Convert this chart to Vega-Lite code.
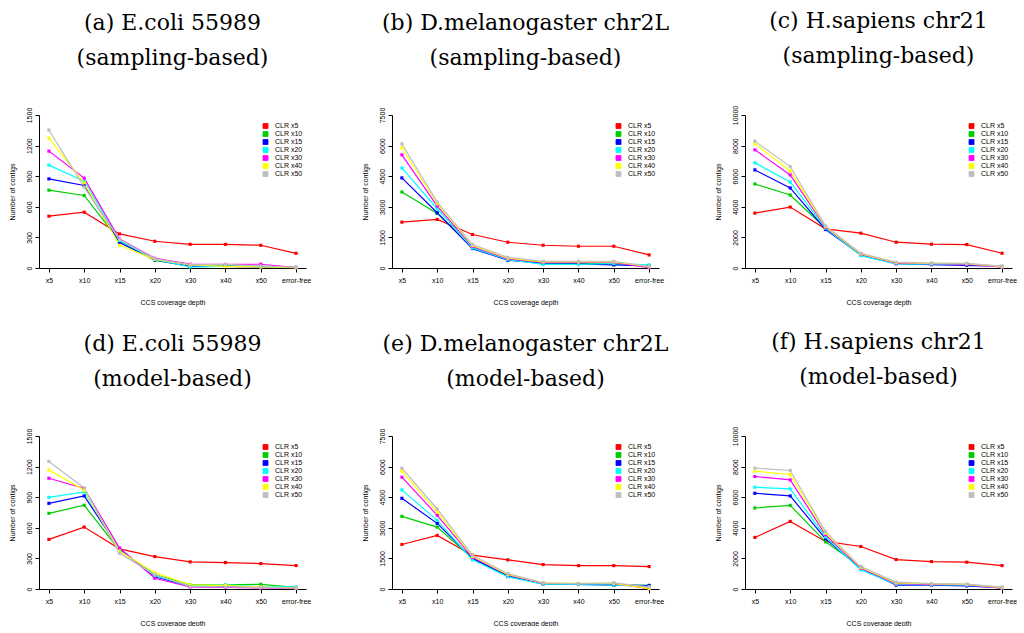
{
"$schema":"https://vega.github.io/schema/vega-lite/v6.json",
"autosize":{"type":"pad"},
"padding":{"left":8,"top":10,"right":0,"bottom":0},
"background":"white",
"bounds":"flush",
"columns":3,
"spacing":{"row":168,"column":86},
"resolve":{"scale":{"color":"shared","x":"independent","y":"independent"},"legend":{"color":"independent"}},
"config":{
 "view":{"stroke":null},
 "font":"Liberation Sans",
 "axis":{"domainColor":"black","tickColor":"black","labelColor":"black","titleColor":"black","labelFontSize":7,"titleFontSize":7,"titleFontWeight":"normal","grid":false,"tickSize":4,"domainWidth":1,"tickWidth":1,"labelFont":"Liberation Sans","titleFont":"Liberation Sans"},
 "axisX":{"labelAngle":0,"labelPadding":4,"titlePadding":15},
 "axisY":{"labelAngle":270,"labelPadding":3,"titlePadding":10,"format":"d"},
 "title":{"font":"DejaVu Serif","fontSize":22,"fontWeight":"normal","color":"black","lineHeight":35,"offset":37,"anchor":"middle"},
 "legend":{"orient":"none","legendX":223,"legendY":7.5,"symbolType":"square","symbolSize":25,"labelFontSize":7,"labelFont":"Liberation Sans","labelColor":"black","labelOffset":6,"rowPadding":-1,"symbolStrokeColor":"black","symbolStrokeWidth":0.8}
},
"datasets":{"d":[
{"p":"a","d":"x5","CLR x5":508,"CLR x10":763,"CLR x15":874,"CLR x20":1009,"CLR x30":1146,"CLR x40":1274,"CLR x50":1353},
{"p":"a","d":"x10","CLR x5":547,"CLR x10":711,"CLR x15":809,"CLR x20":851,"CLR x30":881,"CLR x40":835,"CLR x50":793},
{"p":"a","d":"x15","CLR x5":334,"CLR x10":265,"CLR x15":250,"CLR x20":270,"CLR x30":285,"CLR x40":222,"CLR x50":280},
{"p":"a","d":"x20","CLR x5":262,"CLR x10":75,"CLR x15":80,"CLR x20":85,"CLR x30":95,"CLR x40":85,"CLR x50":90},
{"p":"a","d":"x30","CLR x5":232,"CLR x10":20,"CLR x15":15,"CLR x20":10,"CLR x30":38,"CLR x40":30,"CLR x50":30},
{"p":"a","d":"x40","CLR x5":232,"CLR x10":20,"CLR x15":15,"CLR x20":15,"CLR x30":35,"CLR x40":15,"CLR x50":35},
{"p":"a","d":"x50","CLR x5":223,"CLR x10":15,"CLR x15":10,"CLR x20":15,"CLR x30":37,"CLR x40":10,"CLR x50":20},
{"p":"a","d":"error-free","CLR x5":144,"CLR x10":5,"CLR x15":5,"CLR x20":5,"CLR x30":5,"CLR x40":3,"CLR x50":5},
{"p":"b","d":"x5","CLR x5":2248,"CLR x10":3725,"CLR x15":4415,"CLR x20":4907,"CLR x30":5547,"CLR x40":5892,"CLR x50":6088},
{"p":"b","d":"x10","CLR x5":2380,"CLR x10":2675,"CLR x15":2708,"CLR x20":2905,"CLR x30":3036,"CLR x40":3150,"CLR x50":3233},
{"p":"b","d":"x15","CLR x5":1641,"CLR x10":1000,"CLR x15":950,"CLR x20":980,"CLR x30":1050,"CLR x40":1100,"CLR x50":1150},
{"p":"b","d":"x20","CLR x5":1264,"CLR x10":400,"CLR x15":380,"CLR x20":410,"CLR x30":450,"CLR x40":480,"CLR x50":520},
{"p":"b","d":"x30","CLR x5":1116,"CLR x10":250,"CLR x15":220,"CLR x20":180,"CLR x30":280,"CLR x40":300,"CLR x50":330},
{"p":"b","d":"x40","CLR x5":1067,"CLR x10":230,"CLR x15":200,"CLR x20":180,"CLR x30":280,"CLR x40":300,"CLR x50":330},
{"p":"b","d":"x50","CLR x5":1067,"CLR x10":200,"CLR x15":150,"CLR x20":220,"CLR x30":280,"CLR x40":300,"CLR x50":330},
{"p":"b","d":"error-free","CLR x5":640,"CLR x10":100,"CLR x15":100,"CLR x20":150,"CLR x30":20,"CLR x40":60,"CLR x50":80},
{"p":"c","d":"x5","CLR x5":3589,"CLR x10":5492,"CLR x15":6411,"CLR x20":6871,"CLR x30":7724,"CLR x40":8118,"CLR x50":8293},
{"p":"c","d":"x10","CLR x5":3982,"CLR x10":4770,"CLR x15":5230,"CLR x20":5624,"CLR x30":6083,"CLR x40":6346,"CLR x50":6630},
{"p":"c","d":"x15","CLR x5":2560,"CLR x10":2600,"CLR x15":2516,"CLR x20":2600,"CLR x30":2650,"CLR x40":2700,"CLR x50":2750},
{"p":"c","d":"x20","CLR x5":2276,"CLR x10":900,"CLR x15":850,"CLR x20":810,"CLR x30":900,"CLR x40":920,"CLR x50":960},
{"p":"c","d":"x30","CLR x5":1685,"CLR x10":300,"CLR x15":280,"CLR x20":270,"CLR x30":320,"CLR x40":350,"CLR x50":380},
{"p":"c","d":"x40","CLR x5":1554,"CLR x10":250,"CLR x15":220,"CLR x20":250,"CLR x30":280,"CLR x40":300,"CLR x50":320},
{"p":"c","d":"x50","CLR x5":1532,"CLR x10":250,"CLR x15":175,"CLR x20":250,"CLR x30":250,"CLR x40":280,"CLR x50":300},
{"p":"c","d":"error-free","CLR x5":963,"CLR x10":100,"CLR x15":100,"CLR x20":80,"CLR x30":60,"CLR x40":80,"CLR x50":120},
{"p":"d","d":"x5","CLR x5":486,"CLR x10":742,"CLR x15":840,"CLR x20":899,"CLR x30":1086,"CLR x40":1168,"CLR x50":1250},
{"p":"d","d":"x10","CLR x5":607,"CLR x10":821,"CLR x15":912,"CLR x20":952,"CLR x30":985,"CLR x40":968,"CLR x50":991},
{"p":"d","d":"x15","CLR x5":394,"CLR x10":380,"CLR x15":390,"CLR x20":380,"CLR x30":402,"CLR x40":370,"CLR x50":350},
{"p":"d","d":"x20","CLR x5":318,"CLR x10":140,"CLR x15":120,"CLR x20":130,"CLR x30":105,"CLR x40":160,"CLR x50":140},
{"p":"d","d":"x30","CLR x5":266,"CLR x10":40,"CLR x15":25,"CLR x20":30,"CLR x30":20,"CLR x40":40,"CLR x50":25},
{"p":"d","d":"x40","CLR x5":259,"CLR x10":40,"CLR x15":20,"CLR x20":40,"CLR x30":15,"CLR x40":35,"CLR x50":20},
{"p":"d","d":"x50","CLR x5":249,"CLR x10":46,"CLR x15":15,"CLR x20":20,"CLR x30":10,"CLR x40":20,"CLR x50":15},
{"p":"d","d":"error-free","CLR x5":230,"CLR x10":15,"CLR x15":10,"CLR x20":20,"CLR x30":10,"CLR x40":10,"CLR x50":10},
{"p":"e","d":"x5","CLR x5":2183,"CLR x10":3561,"CLR x15":4447,"CLR x20":4858,"CLR x30":5481,"CLR x40":5777,"CLR x50":5925},
{"p":"e","d":"x10","CLR x5":2626,"CLR x10":3036,"CLR x15":3217,"CLR x20":3364,"CLR x30":3611,"CLR x40":3775,"CLR x50":3922},
{"p":"e","d":"x15","CLR x5":1658,"CLR x10":1500,"CLR x15":1500,"CLR x20":1428,"CLR x30":1550,"CLR x40":1600,"CLR x50":1650},
{"p":"e","d":"x20","CLR x5":1428,"CLR x10":650,"CLR x15":620,"CLR x20":600,"CLR x30":700,"CLR x40":720,"CLR x50":750},
{"p":"e","d":"x30","CLR x5":1198,"CLR x10":250,"CLR x15":250,"CLR x20":240,"CLR x30":280,"CLR x40":300,"CLR x50":300},
{"p":"e","d":"x40","CLR x5":1149,"CLR x10":230,"CLR x15":220,"CLR x20":220,"CLR x30":260,"CLR x40":280,"CLR x50":260},
{"p":"e","d":"x50","CLR x5":1149,"CLR x10":200,"CLR x15":200,"CLR x20":200,"CLR x30":260,"CLR x40":280,"CLR x50":300},
{"p":"e","d":"error-free","CLR x5":1100,"CLR x10":180,"CLR x15":170,"CLR x20":100,"CLR x30":20,"CLR x40":20,"CLR x50":100},
{"p":"f","d":"x5","CLR x5":3370,"CLR x10":5295,"CLR x15":6258,"CLR x20":6652,"CLR x30":7352,"CLR x40":7702,"CLR x50":7899},
{"p":"f","d":"x10","CLR x5":4420,"CLR x10":5470,"CLR x15":6083,"CLR x20":6543,"CLR x30":7133,"CLR x40":7484,"CLR x50":7746},
{"p":"f","d":"x15","CLR x5":3107,"CLR x10":3085,"CLR x15":3282,"CLR x20":3400,"CLR x30":3545,"CLR x40":3650,"CLR x50":3750},
{"p":"f","d":"x20","CLR x5":2779,"CLR x10":1450,"CLR x15":1350,"CLR x20":1247,"CLR x30":1350,"CLR x40":1400,"CLR x50":1450},
{"p":"f","d":"x30","CLR x5":1926,"CLR x10":350,"CLR x15":250,"CLR x20":300,"CLR x30":350,"CLR x40":400,"CLR x50":450},
{"p":"f","d":"x40","CLR x5":1794,"CLR x10":300,"CLR x15":250,"CLR x20":280,"CLR x30":300,"CLR x40":330,"CLR x50":350},
{"p":"f","d":"x50","CLR x5":1751,"CLR x10":280,"CLR x15":200,"CLR x20":250,"CLR x30":280,"CLR x40":300,"CLR x50":320},
{"p":"f","d":"error-free","CLR x5":1532,"CLR x10":100,"CLR x15":80,"CLR x20":80,"CLR x30":60,"CLR x40":80,"CLR x50":120}
]},
"concat":[
{"title":{"text":["(a) E.coli 55989","(sampling-based)"]},"data":{"name":"d"},"width":267,"height":153,
 "transform":[{"filter":"datum.p==='a'"},{"fold":["CLR x5","CLR x10","CLR x15","CLR x20","CLR x30","CLR x40","CLR x50"],"as":["s","v"]}],
 "encoding":{
  "x":{"field":"d","type":"ordinal","sort":["x5","x10","x15","x20","x30","x40","x50","error-free"],"scale":{"type":"point","padding":0.28},"axis":{"title":"CCS coverage depth"}},
  "y":{"field":"v","type":"quantitative","scale":{"domain":[0,1500],"nice":false},"axis":{"values":[0,300,600,900,1200,1500],"title":"Number of contigs"}},
  "color":{"field":"s","type":"nominal","scale":{"domain":["CLR x5","CLR x10","CLR x15","CLR x20","CLR x30","CLR x40","CLR x50"],"range":["#FF0000","#00CD00","#0000FF","#00FFFF","#FF00FF","#FFFF00","#BEBEBE"]},"legend":{"title":null,"encode":{"symbols":{"update":{"fill":{"scale":"color","field":"value"},"stroke":{"value":"black"},"strokeWidth":{"value":0.8},"opacity":{"value":1}}}}}}
 },
 "layer":[{"mark":{"type":"line","strokeWidth":1.2}},{"mark":{"type":"square","size":10,"opacity":1}}]},
{"title":{"text":["(b) D.melanogaster chr2L","(sampling-based)"]},"data":{"name":"d"},"width":267,"height":153,
 "transform":[{"filter":"datum.p==='b'"},{"fold":["CLR x5","CLR x10","CLR x15","CLR x20","CLR x30","CLR x40","CLR x50"],"as":["s","v"]}],
 "encoding":{
  "x":{"field":"d","type":"ordinal","sort":["x5","x10","x15","x20","x30","x40","x50","error-free"],"scale":{"type":"point","padding":0.28},"axis":{"title":"CCS coverage depth"}},
  "y":{"field":"v","type":"quantitative","scale":{"domain":[0,7500],"nice":false},"axis":{"values":[0,1500,3000,4500,6000,7500],"title":"Number of contigs"}},
  "color":{"field":"s","type":"nominal","legend":{"title":null,"encode":{"symbols":{"update":{"fill":{"scale":"color","field":"value"},"stroke":{"value":"black"},"strokeWidth":{"value":0.8},"opacity":{"value":1}}}}}}
 },
 "layer":[{"mark":{"type":"line","strokeWidth":1.2}},{"mark":{"type":"square","size":10,"opacity":1}}]},
{"title":{"text":["(c) H.sapiens chr21","(sampling-based)"]},"data":{"name":"d"},"width":267,"height":153,
 "transform":[{"filter":"datum.p==='c'"},{"fold":["CLR x5","CLR x10","CLR x15","CLR x20","CLR x30","CLR x40","CLR x50"],"as":["s","v"]}],
 "encoding":{
  "x":{"field":"d","type":"ordinal","sort":["x5","x10","x15","x20","x30","x40","x50","error-free"],"scale":{"type":"point","padding":0.28},"axis":{"title":"CCS coverage depth"}},
  "y":{"field":"v","type":"quantitative","scale":{"domain":[0,10000],"nice":false},"axis":{"values":[0,2000,4000,6000,8000,10000],"title":"Number of contigs"}},
  "color":{"field":"s","type":"nominal","legend":{"title":null,"encode":{"symbols":{"update":{"fill":{"scale":"color","field":"value"},"stroke":{"value":"black"},"strokeWidth":{"value":0.8},"opacity":{"value":1}}}}}}
 },
 "layer":[{"mark":{"type":"line","strokeWidth":1.2}},{"mark":{"type":"square","size":10,"opacity":1}}]},
{"title":{"text":["(d) E.coli 55989","(model-based)"]},"data":{"name":"d"},"width":267,"height":153,
 "transform":[{"filter":"datum.p==='d'"},{"fold":["CLR x5","CLR x10","CLR x15","CLR x20","CLR x30","CLR x40","CLR x50"],"as":["s","v"]}],
 "encoding":{
  "x":{"field":"d","type":"ordinal","sort":["x5","x10","x15","x20","x30","x40","x50","error-free"],"scale":{"type":"point","padding":0.28},"axis":{"title":"CCS coverage depth"}},
  "y":{"field":"v","type":"quantitative","scale":{"domain":[0,1500],"nice":false},"axis":{"values":[0,300,600,900,1200,1500],"title":"Number of contigs"}},
  "color":{"field":"s","type":"nominal","legend":{"title":null,"encode":{"symbols":{"update":{"fill":{"scale":"color","field":"value"},"stroke":{"value":"black"},"strokeWidth":{"value":0.8},"opacity":{"value":1}}}}}}
 },
 "layer":[{"mark":{"type":"line","strokeWidth":1.2}},{"mark":{"type":"square","size":10,"opacity":1}}]},
{"title":{"text":["(e) D.melanogaster chr2L","(model-based)"]},"data":{"name":"d"},"width":267,"height":153,
 "transform":[{"filter":"datum.p==='e'"},{"fold":["CLR x5","CLR x10","CLR x15","CLR x20","CLR x30","CLR x40","CLR x50"],"as":["s","v"]}],
 "encoding":{
  "x":{"field":"d","type":"ordinal","sort":["x5","x10","x15","x20","x30","x40","x50","error-free"],"scale":{"type":"point","padding":0.28},"axis":{"title":"CCS coverage depth"}},
  "y":{"field":"v","type":"quantitative","scale":{"domain":[0,7500],"nice":false},"axis":{"values":[0,1500,3000,4500,6000,7500],"title":"Number of contigs"}},
  "color":{"field":"s","type":"nominal","legend":{"title":null,"encode":{"symbols":{"update":{"fill":{"scale":"color","field":"value"},"stroke":{"value":"black"},"strokeWidth":{"value":0.8},"opacity":{"value":1}}}}}}
 },
 "layer":[{"mark":{"type":"line","strokeWidth":1.2}},{"mark":{"type":"square","size":10,"opacity":1}}]},
{"title":{"text":["(f) H.sapiens chr21","(model-based)"]},"data":{"name":"d"},"width":267,"height":153,
 "transform":[{"filter":"datum.p==='f'"},{"fold":["CLR x5","CLR x10","CLR x15","CLR x20","CLR x30","CLR x40","CLR x50"],"as":["s","v"]}],
 "encoding":{
  "x":{"field":"d","type":"ordinal","sort":["x5","x10","x15","x20","x30","x40","x50","error-free"],"scale":{"type":"point","padding":0.28},"axis":{"title":"CCS coverage depth"}},
  "y":{"field":"v","type":"quantitative","scale":{"domain":[0,10000],"nice":false},"axis":{"values":[0,2000,4000,6000,8000,10000],"title":"Number of contigs"}},
  "color":{"field":"s","type":"nominal","legend":{"title":null,"encode":{"symbols":{"update":{"fill":{"scale":"color","field":"value"},"stroke":{"value":"black"},"strokeWidth":{"value":0.8},"opacity":{"value":1}}}}}}
 },
 "layer":[{"mark":{"type":"line","strokeWidth":1.2}},{"mark":{"type":"square","size":10,"opacity":1}}]}
]
}
